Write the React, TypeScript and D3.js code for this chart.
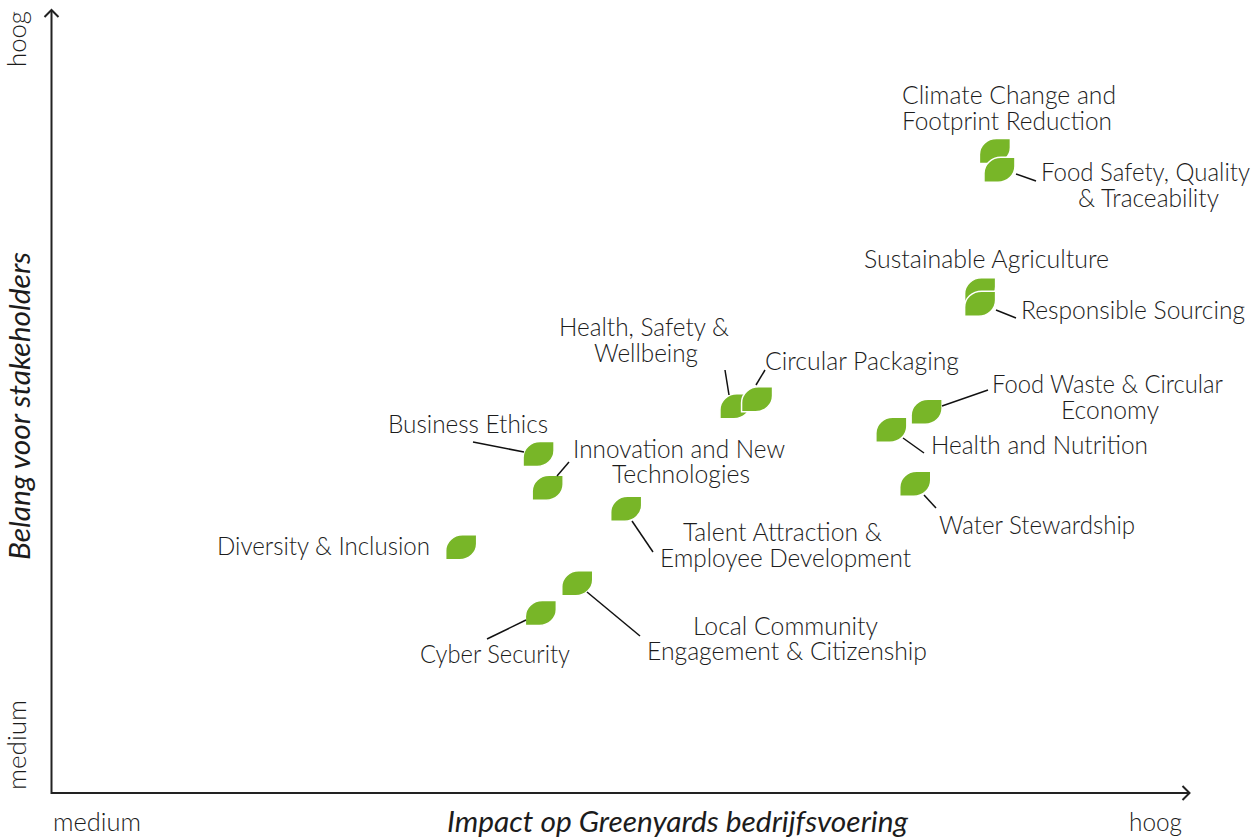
import React from "react";
import * as d3 from "d3";

const W = 1255, H = 839;
const FONT = "Lato, 'Open Sans', sans-serif";
const TEXT = "#1c1c1c";
const GREEN = "#78b628";

// Data: position on the two axes, 0 = medium, 100 = hoog
const topics = ["Climate Change and Footprint Reduction", "Food Safety, Quality & Traceability", "Sustainable Agriculture", "Responsible Sourcing", "Health, Safety & Wellbeing", "Circular Packaging", "Food Waste & Circular Economy", "Health and Nutrition", "Water Stewardship", "Business Ethics", "Innovation and New Technologies", "Talent Attraction & Employee Development", "Diversity & Inclusion", "Local Community Engagement & Citizenship", "Cyber Security"];
const impact = [82.9, 83.3, 81.6, 81.6, 60.1, 62.0, 76.9, 73.8, 75.9, 42.8, 43.6, 50.5, 36.0, 46.2, 43.0];
const belang = [82.0, 79.6, 64.2, 62.5, 49.4, 50.3, 48.7, 46.4, 39.5, 43.3, 39.0, 36.3, 31.4, 26.8, 23.0];

const xLabels = ["medium", "hoog"];
const xTitle = "Impact op Greenyards bedrijfsvoering";
const yTitle = "Belang voor stakeholders";

// Layout: label lines as [text, left, right, baseline], and leader lines
type Line = [string, number, number, number];
type Lay = { lines: Line[]; lead?: number[] };
const layout: Lay[] = [
  { lines: [["Climate Change and", 902, 1116, 104], ["Footprint Reduction", 902, 1112, 130]] },
  { lines: [["Food Safety, Quality", 1041, 1250, 181], ["& Traceability", 1078, 1219, 207]], lead: [1016, 174, 1036, 181] },
  { lines: [["Sustainable Agriculture", 864, 1109, 268]] },
  { lines: [["Responsible Sourcing", 1021, 1245, 319]], lead: [996, 310, 1016, 318] },
  { lines: [["Health, Safety &", 559, 729, 336], ["Wellbeing", 594, 698, 362]], lead: [725, 370, 729, 395] },
  { lines: [["Circular Packaging", 765, 959, 370]], lead: [756, 385, 765, 370] },
  { lines: [["Food Waste & Circular", 992, 1223, 393], ["Economy", 1061, 1159, 419]], lead: [942, 406, 988, 390] },
  { lines: [["Health and Nutrition", 931, 1148, 454]], lead: [903, 438, 924, 453] },
  { lines: [["Water Stewardship", 939, 1135, 534]], lead: [924, 495, 936, 508] },
  { lines: [["Business Ethics", 388, 548, 433]], lead: [473, 442, 524, 452] },
  { lines: [["Innovation and New", 573, 785, 458], ["Technologies", 612, 750, 483]], lead: [557, 476, 569, 462] },
  { lines: [["Talent Attraction &", 683, 882, 541], ["Employee Development", 660, 911, 567]], lead: [632, 521, 653, 552] },
  { lines: [["Diversity & Inclusion", 217, 430, 555]] },
  { lines: [["Local Community", 693, 878, 635], ["Engagement & Citizenship", 647, 927, 660]], lead: [587, 592, 640, 636] },
  { lines: [["Cyber Security", 420, 570, 663]], lead: [526, 620, 487, 639] },
];

const LW = 31, LH = 25, RX = 17, RY = 16, K = 0.55;
const leaf = (cx: number, cy: number) => {
  const l = cx - LW / 2, r = cx + LW / 2, t = cy - LH / 2, b = cy + LH / 2;
  const p = d3.path();
  p.moveTo(l + RX, t);
  p.lineTo(r, t);
  p.lineTo(r, b - RY);
  p.bezierCurveTo(r, b - RY + K * RY, r - RX + K * RX, b, r - RX, b);
  p.lineTo(l, b);
  p.lineTo(l, t + RY);
  p.bezierCurveTo(l, t + RY - K * RY, l + RX - K * RX, t, l + RX, t);
  p.closePath();
  return p.toString();
};

const ORIGIN_X = 51.5, ORIGIN_Y = 793, END_X = 1189.5, END_Y = 10;
const x = d3.scaleLinear().domain([0, 100]).range([ORIGIN_X, END_X]);
const y = d3.scaleLinear().domain([0, 100]).range([ORIGIN_Y, END_Y]);

export default function App() {
  return (
    <svg width={W} height={H} viewBox={`0 0 ${W} ${H}`} style={{ position: "absolute", left: 0, top: 0, background: "#fff" }}>
      <g fill="none" stroke="#222" strokeWidth={2}>
        <path d={d3.line()([[ORIGIN_X, END_Y], [ORIGIN_X, ORIGIN_Y], [END_X, ORIGIN_Y]]) as string} />
        <path d={`M${ORIGIN_X - 7},${END_Y + 7}L${ORIGIN_X},${END_Y}L${ORIGIN_X + 7},${END_Y + 7}`} />
        <path d={`M${END_X - 7},${ORIGIN_Y - 7}L${END_X},${ORIGIN_Y}L${END_X - 7},${ORIGIN_Y + 7}`} />
      </g>
      <g fontFamily={FONT} fontWeight={300} fontSize={25} fill={TEXT} lengthAdjust="spacingAndGlyphs">
        <text x={53} y={831} textLength={88} lengthAdjust="spacingAndGlyphs">{xLabels[0]}</text>
        <text x={1129} y={831} textLength={53} lengthAdjust="spacingAndGlyphs">{xLabels[1]}</text>
        <text transform="translate(25.5,790) rotate(-90)" textLength={90} lengthAdjust="spacingAndGlyphs">{xLabels[0]}</text>
        <text transform="translate(25.5,67) rotate(-90)" textLength={56} lengthAdjust="spacingAndGlyphs">{xLabels[1]}</text>
        <text x={447} y={832} textLength={461} lengthAdjust="spacingAndGlyphs" fontStyle="italic" fontWeight={400} fontSize={28}>{xTitle}</text>
        <text transform="translate(30,560) rotate(-90)" textLength={308} lengthAdjust="spacingAndGlyphs" fontStyle="italic" fontWeight={400} fontSize={28}>{yTitle}</text>
      </g>
      <g>
        {topics.map((t, i) => (
          <path key={t} d={leaf(x(impact[i]), y(belang[i]))} fill={GREEN} stroke="#fff" strokeWidth={1.5} />
        ))}
      </g>
      <g stroke="#111" strokeWidth={1.5}>
        {layout.map((l, i) => l.lead ? <line key={i} x1={l.lead[0]} y1={l.lead[1]} x2={l.lead[2]} y2={l.lead[3]} /> : null)}
      </g>
      <g fontFamily={FONT} fontWeight={300} fontSize={24.5} fill={TEXT}>
        {layout.flatMap((l, i) => l.lines.map((ln, j) => (
          <text key={`${i}-${j}`} x={ln[1]} y={ln[3]} textLength={ln[2] - ln[1]} lengthAdjust="spacingAndGlyphs">{ln[0]}</text>
        )))}
      </g>
    </svg>
  );
}
